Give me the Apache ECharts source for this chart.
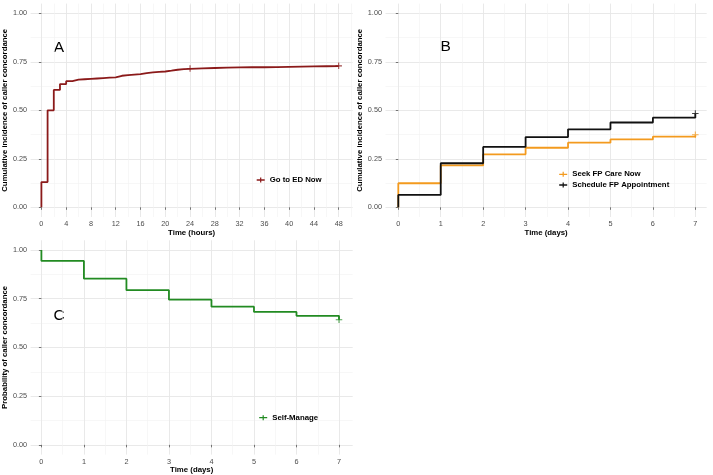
<!DOCTYPE html>
<html><head><meta charset="utf-8">
<script src="https://cdn.jsdelivr.net/npm/echarts@6/dist/echarts.min.js"></script>
<style>html,body{margin:0;padding:0;background:#fff}#c{width:713px;height:475px}</style>
</head><body><div id="c"></div>
<script>
// ---- Panel A: Go to ED Now (hours) ----
const hoursA = [0,0,1,2,3,4,5,6,7,8,9,10,11,12,13,14,15,16,17,18,19,20,21,22,23,24,26,28,30,32,34,36,38,40,42,44,46,48];
const goEdNow = [0,0.13,0.50,0.605,0.635,0.650,0.658,0.660,0.662,0.664,0.666,0.668,0.670,0.678,0.681,0.684,0.687,0.692,0.695,0.698,0.700,0.704,0.709,0.712,0.714,0.716,0.718,0.720,0.721,0.722,0.722,0.723,0.724,0.725,0.726,0.727,0.728,0.729];
const censorHoursA = [24,48];
const censorGoEd = [0.716,0.729];
const ticksHoursA = [0,4,8,12,16,20,24,28,32,36,40,44,48];

// ---- Panel B: Seek FP Care Now / Schedule FP Appointment (days) ----
const daysB = [0,0,1,2,3,4,5,6,7];
const seekFpCareNow = [0,0.124,0.216,0.273,0.307,0.333,0.350,0.364,0.372];
const scheduleFpAppt = [0,0.064,0.227,0.311,0.362,0.402,0.437,0.462,0.483];
const censorDaysB = [7];
const censorSeek = [0.374];
const censorSchedule = [0.483];

// ---- Panel C: Self-Manage (days) ----
const daysC = [0,0,1,2,3,4,5,6,7];
const selfManage = [1.0,0.944,0.853,0.794,0.745,0.709,0.682,0.662,0.642];
const censorDaysC = [7];
const censorSelf = [0.642];

const ticksDays = [0,1,2,3,4,5,6,7];
const ticksY = [0,0.25,0.5,0.75,1];
const minorY = [0.125,0.375,0.625,0.875];
const minorHoursA = [2,6,10,14,18,22,26,30,34,38,42,46,50];
const minorDays = [0.5,1.5,2.5,3.5,4.5,5.5,6.5];

const FONT = "'Liberation Sans', Arial, Helvetica, sans-serif";
const colA = '#8B1A1A', colSeek = '#F39A1E', colSched = '#111111', colSelf = '#228B22';
const plusIcon = 'path://M0,1.85H8V3.15H0Z M3.4,0H4.6V5H3.4Z';
const plusSym = 'path://M-0.16,-1H0.16V-0.16H1V0.16H0.16V1H-0.16V0.16H-1V-0.16H-0.16Z';

const zip = (xs, ys) => xs.map((x, i) => [x, ys[i]]);

const grids = [
  {left:30.5, top:3.6, width:322.2, height:213.4},
  {left:385.5, top:3.6, width:321.2, height:213.4},
  {left:30.5, top:240.25, width:322.2, height:214.5}
];
const xr = [[-1.743,50.26],[-0.3017,7.268],[-0.254,7.322]];
const xMaj = [ticksHoursA, ticksDays, ticksDays];
const xMin = [minorHoursA, minorDays, minorDays];
const xNames = ['Time (hours)','Time (days)','Time (days)'];
const yNames = ['Cumulative incidence of caller concordance','Cumulative incidence of caller concordance','Probability of caller concordance'];

const majLine = {show:true, lineStyle:{color:'#E6E6E6', width:0.9}};
const minLine = {show:true, lineStyle:{color:'#F1F1F1', width:0.6}};
const tickLbl = {color:'#4D4D4D', fontSize:7.3, fontFamily:FONT};
const nameStyle = {color:'#000', fontSize:7.8, fontWeight:'bold', fontFamily:FONT};

const xAxis = [], yAxis = [];
for (let g = 0; g < 3; g++) {
  xAxis.push({type:'value', gridIndex:g, min:xr[g][0], max:xr[g][1], position:'bottom',
    axisLine:{show:false},
    axisTick:{show:true, length:2.5, customValues:xMaj[g], lineStyle:{color:'#555', width:0.8}},
    axisLabel:{customValues:xMaj[g], margin:3.5, formatter:v=>String(v), ...tickLbl},
    splitLine:majLine,
    name:xNames[g], nameLocation:'middle', nameGap:9.5, nameTextStyle:nameStyle});
  xAxis.push({type:'value', gridIndex:g, min:xr[g][0], max:xr[g][1], position:'top',
    axisLine:{show:false}, axisTick:{show:false, customValues:xMin[g]}, axisLabel:{show:false},
    splitLine:minLine});
  yAxis.push({type:'value', gridIndex:g, min:-0.05, max:1.05, position:'left',
    axisLine:{show:false},
    axisTick:{show:true, length:2.5, customValues:ticksY, lineStyle:{color:'#555', width:0.8}},
    axisLabel:{customValues:ticksY, margin:3.5, formatter:v=>v.toFixed(2), ...tickLbl},
    splitLine:majLine,
    name:yNames[g], nameLocation:'middle', nameGap:19.5, nameTextStyle:nameStyle});
  yAxis.push({type:'value', gridIndex:g, min:-0.05, max:1.05, position:'right',
    axisLine:{show:false}, axisTick:{show:false, customValues:minorY}, axisLabel:{show:false},
    splitLine:minLine});
}

function stepSeries(name, g, xs, ys, color) {
  return {name, type:'line', step:'end', xAxisIndex:g*2, yAxisIndex:g*2, data:zip(xs, ys),
    showSymbol:false, color, lineStyle:{color, width:1.8}, silent:true, z:3};
}
function censorSeries(name, g, xs, ys, color) {
  return {name, type:'scatter', xAxisIndex:g*2, yAxisIndex:g*2, data:zip(xs, ys),
    symbol:plusSym, symbolSize:6.5, color, itemStyle:{color}, silent:true, z:4};
}

const legText = {fontSize:7.8, fontWeight:'bold', color:'#000', fontFamily:FONT, lineHeight:9};
const option = {
  animation:false,
  backgroundColor:'#fff',
  grid:grids,
  xAxis, yAxis,
  legend:[
    {left:256.7, top:175.5, padding:0, orient:'vertical', itemWidth:8, itemHeight:5, itemGap:1.7, selectedMode:false,
      data:[{name:'Go to ED Now', icon:plusIcon}], textStyle:legText},
    {left:559.2, top:169.8, padding:0, orient:'vertical', itemWidth:8, itemHeight:5, itemGap:1.7, selectedMode:false,
      data:[{name:'Seek FP Care Now', icon:plusIcon},{name:'Schedule FP Appointment', icon:plusIcon}], textStyle:legText},
    {left:259.2, top:413.2, padding:0, orient:'vertical', itemWidth:8, itemHeight:5, itemGap:1.7, selectedMode:false,
      data:[{name:'Self-Manage', icon:plusIcon}], textStyle:legText}
  ],
  graphic:[
    {type:'text', x:59, y:47.7, style:{text:'A', fontSize:15.5, fontFamily:FONT, fill:'#000', textAlign:'center', textVerticalAlign:'middle'}},
    {type:'text', x:445.7, y:46.7, style:{text:'B', fontSize:15.5, fontFamily:FONT, fill:'#000', textAlign:'center', textVerticalAlign:'middle'}},
    {type:'text', x:59, y:316, style:{text:'C', fontSize:15.5, fontFamily:FONT, fill:'#000', textAlign:'center', textVerticalAlign:'middle'}}
  ],
  series:[
    stepSeries('Go to ED Now', 0, hoursA, goEdNow, colA),
    censorSeries('Go to ED Now', 0, censorHoursA, censorGoEd, colA),
    stepSeries('Seek FP Care Now', 1, daysB, seekFpCareNow, colSeek),
    censorSeries('Seek FP Care Now', 1, censorDaysB, censorSeek, colSeek),
    stepSeries('Schedule FP Appointment', 1, daysB, scheduleFpAppt, colSched),
    censorSeries('Schedule FP Appointment', 1, censorDaysB, censorSchedule, colSched),
    stepSeries('Self-Manage', 2, daysC, selfManage, colSelf),
    censorSeries('Self-Manage', 2, censorDaysC, censorSelf, colSelf)
  ]
};
const chart = echarts.init(document.getElementById('c'), null, {renderer:'canvas', width:713, height:475});
chart.setOption(option);
</script>
</body></html>
